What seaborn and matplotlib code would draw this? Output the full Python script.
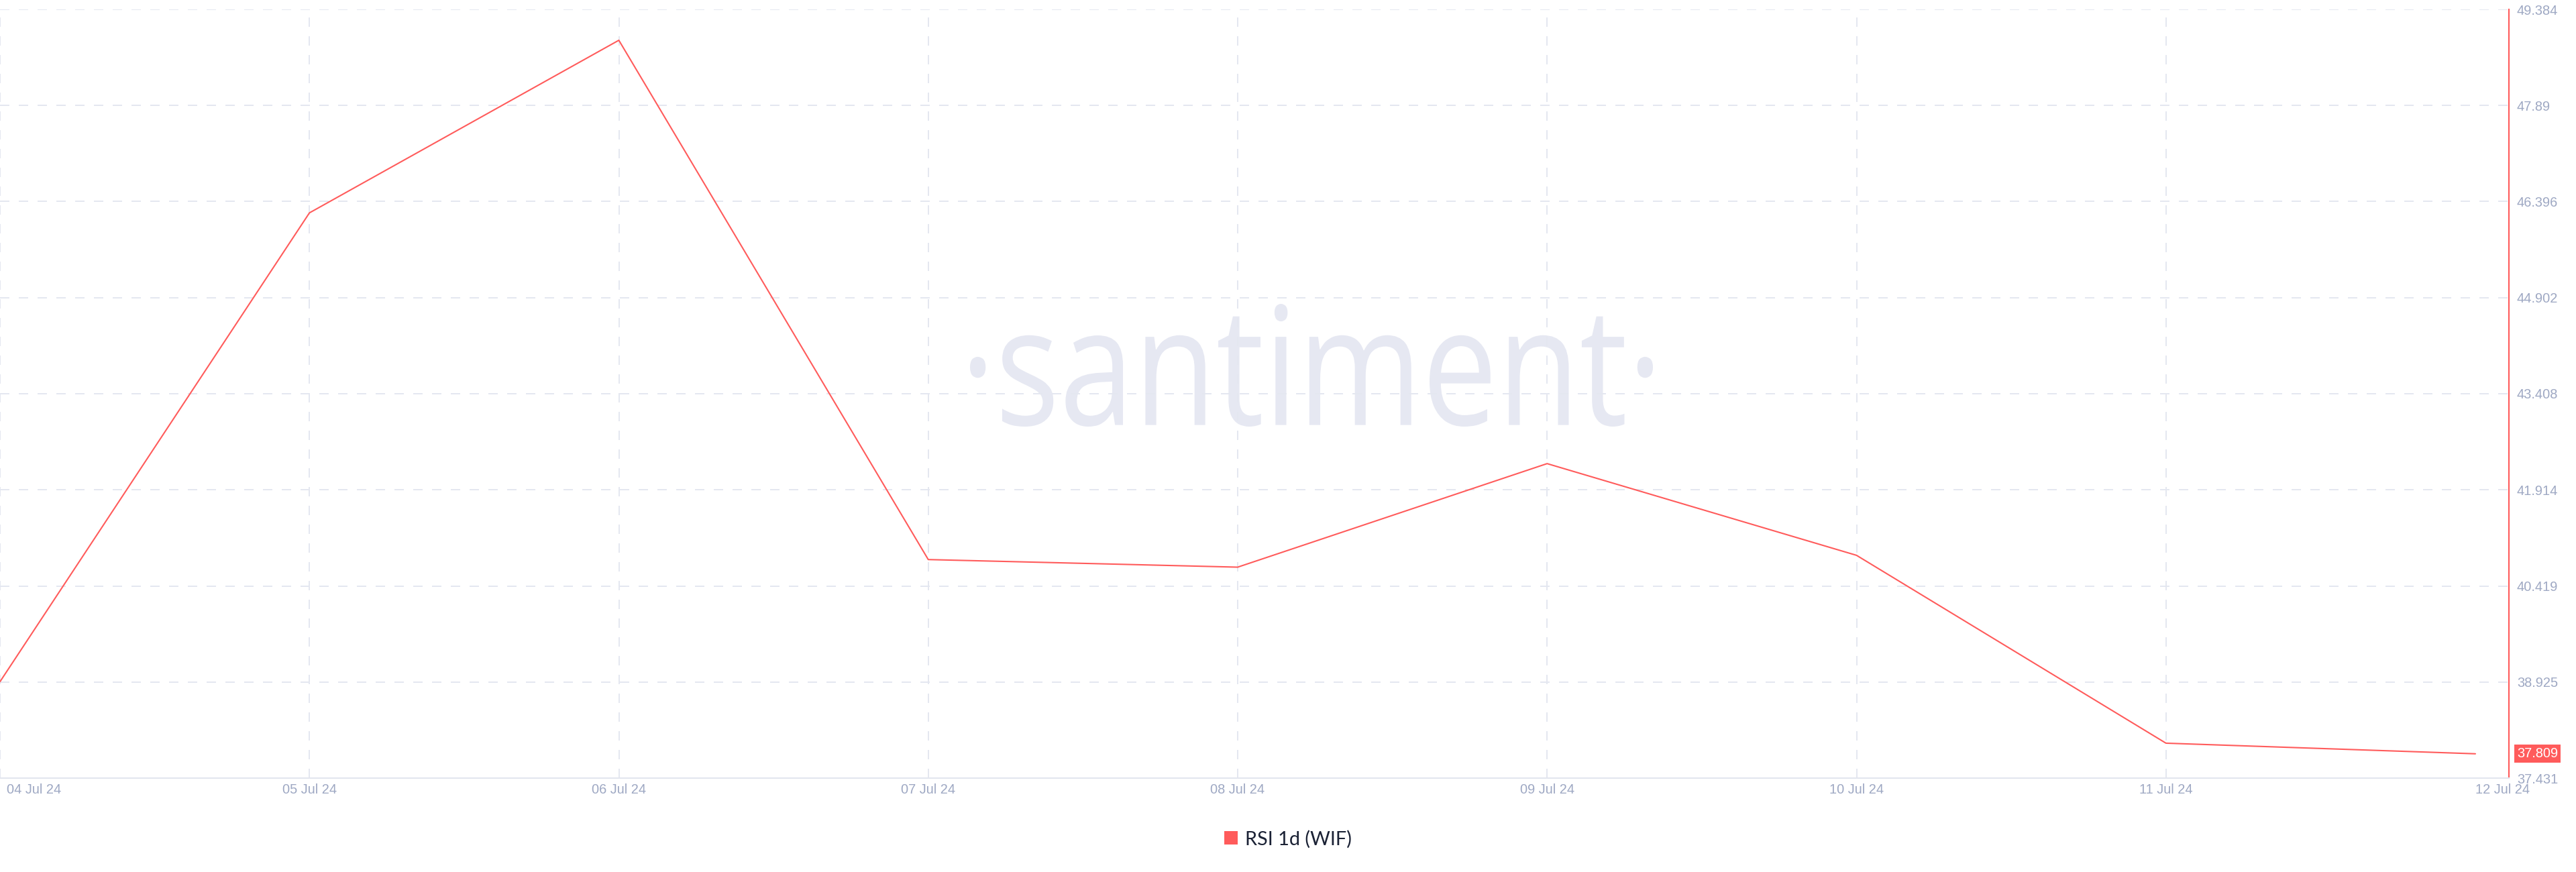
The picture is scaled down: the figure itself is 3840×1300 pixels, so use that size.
import numpy as np
import pandas as pd
import matplotlib
matplotlib.use("Agg")
import matplotlib.pyplot as plt
import seaborn as sns
from matplotlib.patches import Patch, PathPatch
from matplotlib.textpath import TextPath
from matplotlib.font_manager import FontProperties
from matplotlib.transforms import Affine2D, ScaledTranslation

# ---- data ----
dates = pd.date_range("2024-07-04", "2024-07-12", freq="D")
rsi_values = [38.93, 46.22, 48.904, 40.829, 40.711, 42.321, 40.895, 37.974, 37.809]
series_name = "RSI 1d (WIF)"
y_ticks = [37.431, 38.925, 40.419, 41.914, 43.408, 44.902, 46.396, 47.89, 49.384]
y_tick_labels = ["37.431", "38.925", "40.419", "41.914", "43.408", "44.902", "46.396", "47.89", "49.384"]
x_tick_labels = [d.strftime("%d %b %y") for d in dates]

RED = "#ff5b5b"
GRID = "#e4e7f0"
TICK = "#9ea8c3"

df = pd.DataFrame({"date": dates, "value": rsi_values})

sns.set_theme(style="white")
plt.rcParams["font.family"] = ["Liberation Sans", "DejaVu Sans"]

W, H = 3840, 1300
fig = plt.figure(figsize=(W / 100, H / 100), dpi=100)
ax = fig.add_axes([0, 1 - 1160 / H, 3740 / W, (1160 - 14) / H])
ax.set_facecolor("none")

# watermark
tp = TextPath((0, 0), "\u00b7santiment\u00b7", size=100, prop=FontProperties(family="Open Sans"))
bb = tp.get_extents()
x0, x1 = 1446, 2464
yb, yt = H - 636, H - 453
tr = Affine2D().translate(-bb.x0, -bb.y0).scale((x1 - x0) / bb.width, (yt - yb) / bb.height).translate(x0, yb)
wm = PathPatch(tp, transform=tr, facecolor="#e6e8f2", edgecolor="none", zorder=0.1)
fig.add_artist(wm)
wm.set_zorder(-1)

sns.lineplot(data=df, x="date", y="value", ax=ax, color=RED, linewidth=1.5, zorder=3)

ax.set_xlim(dates[0], dates[0] + pd.Timedelta(days=3740 / 461.25))
ax.set_ylim(y_ticks[0], y_ticks[-1])
ax.set_xlabel("")
ax.set_ylabel("")

ax.set_xticks(dates)
ax.set_xticklabels(x_tick_labels)
ax.yaxis.tick_right()
ax.set_yticks(y_ticks)
ax.set_yticklabels(y_tick_labels)

ax.tick_params(axis="x", length=0, pad=6, labelsize=14.4, labelcolor=TICK)
ax.tick_params(axis="y", length=0, pad=8.6, labelsize=14.4, labelcolor=TICK)

ax.set_axisbelow(True)
ax.grid(True, color=GRID, linestyle=(0, (7, 7)), linewidth=1.44)
ax.xaxis.get_gridlines()[-1].set_visible(False)

for s in ["top", "left"]:
    ax.spines[s].set_visible(False)
ax.spines["bottom"].set_color("#e2e5ee")
ax.spines["bottom"].set_linewidth(1.44)
ax.spines["right"].set_color(RED)
ax.spines["right"].set_linewidth(1.5)

xl = ax.get_xticklabels()
xl[0].set_ha("left")
xl[0].set_transform(xl[0].get_transform() + ScaledTranslation(10 / 100, 0, fig.dpi_scale_trans))
xl[-1].set_ha("left")

ax.annotate(f"{rsi_values[-1]:.3f}", xy=(1, rsi_values[-1]), xycoords=("axes fraction", "data"),
            xytext=(8.6, 0), textcoords="offset points", ha="left", va="center",
            color="white", fontsize=14.4, annotation_clip=False,
            bbox=dict(boxstyle="square,pad=0.2", fc=RED, ec="none"))

leg = fig.legend(handles=[Patch(facecolor=RED, edgecolor="none")], labels=[series_name],
                 loc="center", bbox_to_anchor=(0.5, 1 - 1251 / H), frameon=False,
                 prop=FontProperties(family="Lato", size=20.8),
                 handlelength=0.7, handleheight=0.7, handletextpad=0.4)
for t in leg.get_texts():
    t.set_color("#1b2235")

fig.savefig("out.png", dpi=100, facecolor="white")
